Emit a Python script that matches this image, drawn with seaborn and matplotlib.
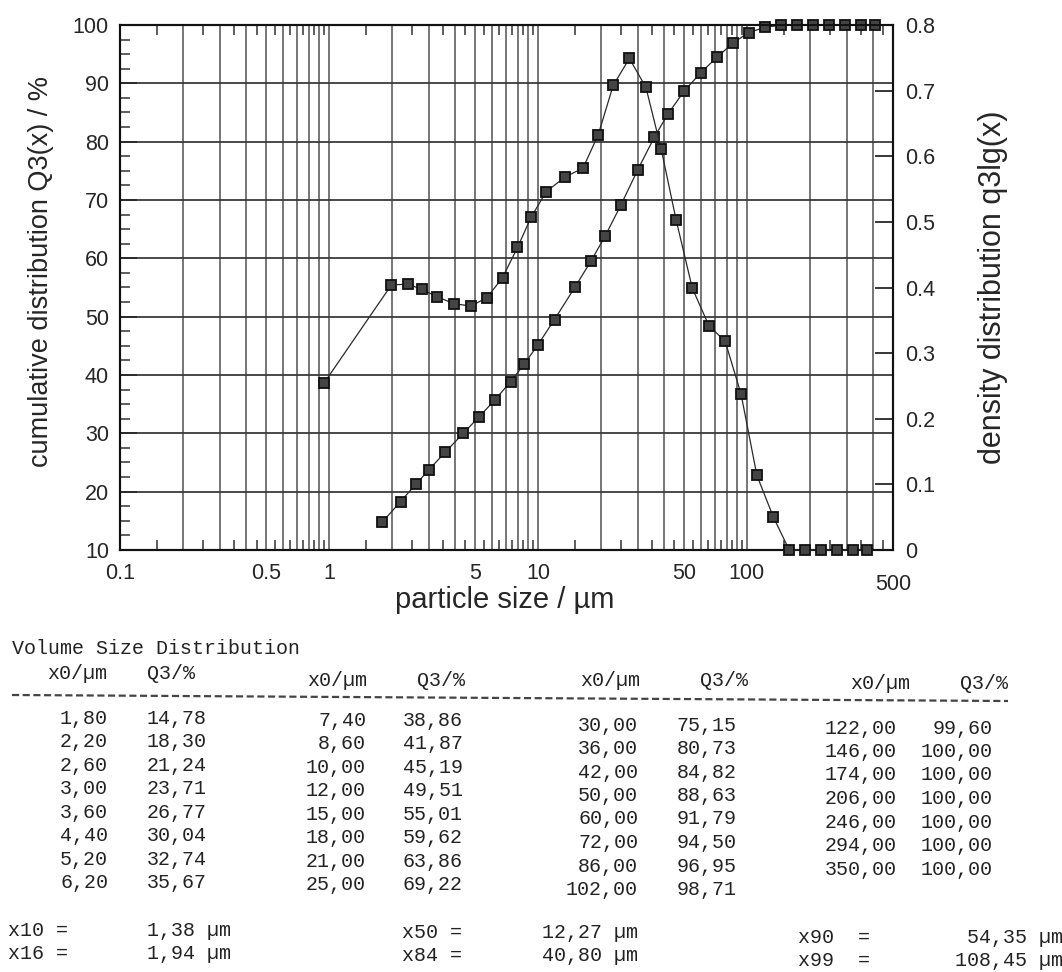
import matplotlib
matplotlib.use("Agg")
import matplotlib.pyplot as plt
import matplotlib.transforms as mtransforms
import seaborn as sns
from matplotlib.ticker import FixedLocator, FixedFormatter, NullFormatter
from matplotlib.lines import Line2D

# Upper class edges x0 and cumulative undersize Q3 (volume based)
size_x0 = [1.80, 2.20, 2.60, 3.00, 3.60, 4.40, 5.20, 6.20,
           7.40, 8.60, 10.00, 12.00, 15.00, 18.00, 21.00, 25.00,
           30.00, 36.00, 42.00, 50.00, 60.00, 72.00, 86.00, 102.00,
           122.00, 146.00, 174.00, 206.00, 246.00, 294.00, 350.00]
q3_cum = [14.78, 18.30, 21.24, 23.71, 26.77, 30.04, 32.74, 35.67,
          38.86, 41.87, 45.19, 49.51, 55.01, 59.62, 63.86, 69.22,
          75.15, 80.73, 84.82, 88.63, 91.79, 94.50, 96.95, 98.71,
          99.60, 100.00, 100.00, 100.00, 100.00, 100.00, 100.00]
# last plotted point of the cumulative curve (upper range limit)
cum_tail_x = [410.0]
cum_tail_q3 = [100.0]

# Density distribution q3lg(x) at the class mid sizes
dens_x = [0.95, 1.99, 2.39, 2.79, 3.29, 3.98, 4.78, 5.68, 6.77, 7.98, 9.27,
          10.95, 13.42, 16.43, 19.44, 22.91, 27.39, 32.86, 38.88, 45.83,
          54.77, 65.73, 78.69, 93.66, 111.55, 133.46, 159.39, 189.33,
          225.12, 268.93, 320.78, 374.0]
dens_q3lg = [0.255, 0.404, 0.405, 0.397, 0.386, 0.375, 0.372, 0.384, 0.415,
             0.461, 0.507, 0.546, 0.568, 0.582, 0.633, 0.708, 0.749, 0.705,
             0.611, 0.503, 0.399, 0.342, 0.318, 0.238, 0.114, 0.051,
             0.0, 0.0, 0.0, 0.0, 0.0, 0.0]

# Characteristic sizes
char_names = ["x10", "x16", "x50", "x84", "x90", "x99"]
char_values = [1.38, 1.94, 12.27, 40.80, 54.35, 108.45]

x_tick_values = [0.1, 0.5, 1, 5, 10, 50, 100, 500]
x_tick_labels = ["0.1", "0.5", "1", "5", "10", "50", "100", "500"]
q3_ticks = [10, 20, 30, 40, 50, 60, 70, 80, 90, 100]
dens_ticks = [0.0, 0.1, 0.2, 0.3, 0.4, 0.5, 0.6, 0.7, 0.8]
dens_tick_labels = ["0", "0.1", "0.2", "0.3", "0.4", "0.5", "0.6", "0.7", "0.8"]

sns.set_style("white")
plt.rcParams["font.family"] = ["Liberation Sans", "DejaVu Sans"]
MONO = ["Liberation Mono", "DejaVu Sans Mono"]

W, H = 1062, 972
fig = plt.figure(figsize=(W / 100, H / 100), dpi=100)


def fx(x):
    return x / W


def fy(y):
    return 1 - y / H


ax = fig.add_axes([fx(120), fy(550), (893 - 120) / W, (550 - 25) / H])
ax.set_xscale("log")
ax.set_xlim(0.1, 500)
ax.set_ylim(10, 100)

# grid positions: every 1..9 multiple per decade
grid_x = [m * 10.0 ** e for e in range(-1, 3) for m in range(1, 10)]
grid_x = [g for g in grid_x if 0.1 <= g <= 500]
half_x = [(m + 0.5) * 10.0 ** e for e in range(-1, 3) for m in range(1, 10)]
half_x = [h for h in half_x if 0.1 < h < 500]

ax.xaxis.set_major_locator(FixedLocator(grid_x))
ax.xaxis.set_major_formatter(FixedFormatter(
    [x_tick_labels[x_tick_values.index(g)] if g in x_tick_values else "" for g in grid_x]))
ax.xaxis.set_minor_locator(FixedLocator(half_x))
ax.xaxis.set_minor_formatter(NullFormatter())
ax.yaxis.set_major_locator(FixedLocator(q3_ticks))
ax.yaxis.set_minor_locator(FixedLocator([v + d for v in q3_ticks[:-1] for d in (2.5, 5.0, 7.5)]))
ax.yaxis.set_minor_formatter(NullFormatter())

ax.grid(True, which="major", axis="x", color="#6b6b6b", lw=1.3)
ax.grid(True, which="major", axis="y", color="#3a3a3a", lw=1.3)
ax.tick_params(axis="x", which="major", length=0, pad=9, labelsize=15.5, top=True)
ax.tick_params(axis="x", which="minor", direction="in", length=7, width=1.1,
               top=True, bottom=True, color="#333")
ax.tick_params(axis="y", which="major", direction="in", length=12, width=1.2,
               labelsize=15.5, pad=8, left=True, right=False)
ax.tick_params(axis="y", which="minor", direction="in", length=7, width=1.1,
               left=True, right=False, color="#333")
for s in ax.spines.values():
    s.set_linewidth(1.5)
    s.set_color("#111")

# the "500" label at the right end sits a little lower than the others
for g, lab in zip(grid_x, ax.get_xticklabels()):
    if g == 500:
        lab.set_transform(lab.get_transform() + mtransforms.ScaledTranslation(
            0, -8 / 72, fig.dpi_scale_trans))

line_kw = dict(color="#2a2a2a", lw=0.9, marker="s", markersize=6.6,
               markerfacecolor="#444444", markeredgecolor="#101010",
               markeredgewidth=1.3, clip_on=False, zorder=4)

sns.lineplot(x=size_x0 + cum_tail_x, y=q3_cum + cum_tail_q3, ax=ax,
             sort=False, estimator=None, **line_kw)

ax2 = ax.twinx()
ax2.set_ylim(0, 0.8)
ax2.set_xlim(0.1, 500)
sns.lineplot(x=dens_x, y=dens_q3lg, ax=ax2, sort=False, estimator=None, **line_kw)
ax2.yaxis.set_major_locator(FixedLocator(dens_ticks))
ax2.yaxis.set_major_formatter(FixedFormatter(dens_tick_labels))
ax2.tick_params(axis="y", which="both", direction="in", length=13, width=1.3,
                labelsize=15.5, pad=9, right=True, left=False)
ax2.grid(False)
for s in ax2.spines.values():
    s.set_linewidth(1.5)
    s.set_color("#111")

ax.set_xlabel("particle size / µm", fontsize=21)
ax.xaxis.set_label_coords(0.498, -0.068)
ax.set_ylabel("cumulative distribution Q3(x) / %", fontsize=19.5)
ax.yaxis.set_label_coords(-0.086, 0.53)
ax2.set_ylabel("density distribution q3lg(x)", fontsize=22)
ax2.yaxis.set_label_coords(1.11, 0.5)

# ---- tabulated results below the chart ----
fs = 14.4


def put(x, y, s, ha="left"):
    fig.text(fx(x), fy(y), s, ha=ha, va="center", fontsize=fs, family=MONO, color="#222")


def fmt(v):
    return f"{v:.2f}".replace(".", ",")


put(12, 648, "Volume Size Distribution")
header_pos = [(47, 147, 673), (307, 417, 681), (580, 700, 681), (850, 960, 683)]
for xh, qh, yh in header_pos:
    put(xh, yh, "x0/µm")
    put(qh, yh, "Q3/%")

fig.add_artist(Line2D([fx(12), fx(1008)], [fy(695), fy(701)], color="#444",
                      lw=1.6, ls=(0, (3.2, 1.6))))

blocks = [(108, 207, 718), (366, 463, 720), (638, 737, 725), (897, 993, 728)]
row_step = 23.5
for b, (xr, qr, y0) in enumerate(blocks):
    lo = b * 8
    for i, (xv, qv) in enumerate(zip(size_x0[lo:lo + 8], q3_cum[lo:lo + 8])):
        put(xr, y0 + i * row_step, fmt(xv), ha="right")
        put(qr, y0 + i * row_step, fmt(qv), ha="right")

stat_layout = [(8, 147, 930, "left"), (8, 147, 953, "left"),
               (402, 542, 932, "left"), (402, 542, 955, "left"),
               (798, 1063, 937, "right"), (798, 1063, 960, "right")]
for name, val, (xn, xv, yv, al) in zip(char_names, char_values, stat_layout):
    eq = " =" if al == "left" else "  ="
    put(xn, yv, name + eq)
    put(xv, yv, fmt(val) + " µm", ha=al)

fig.savefig("out.png", dpi=100, facecolor="white")
